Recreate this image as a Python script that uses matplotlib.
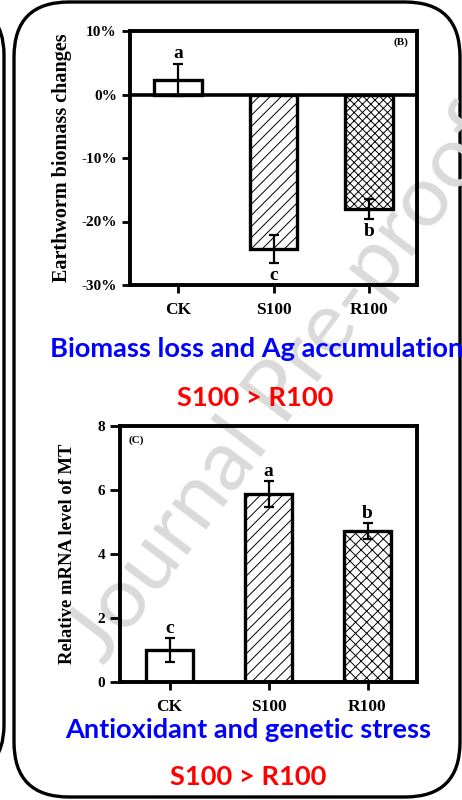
import matplotlib
matplotlib.use("Agg")
import matplotlib.pyplot as plt
from matplotlib.patches import FancyBboxPatch
import numpy as np

categories = ["CK", "S100", "R100"]
biomass_change = [2.3, -24.3, -18.0]
biomass_err = [2.5, 2.2, 1.6]
biomass_letters = ["a", "c", "b"]
biomass_ticks = [-30, -20, -10, 0, 10]
mt_level = [1.0, 5.87, 4.72]
mt_err = [0.37, 0.40, 0.24]
mt_letters = ["c", "a", "b"]
mt_ticks = [0, 2, 4, 6, 8]

plt.rcParams['font.family'] = 'Liberation Serif'
plt.rcParams['font.weight'] = 'bold'
plt.rcParams['axes.labelweight'] = 'bold'
plt.rcParams['hatch.linewidth'] = 0.7

fig = plt.figure(figsize=(4.62, 8.0), dpi=100)

# background layer in pixel units: frames, watermark, captions
bg = fig.add_axes([0, 0, 1, 1], zorder=-1)
bg.set_xlim(0, 462)
bg.set_ylim(800, 0)
bg.axis('off')
bg.add_patch(FancyBboxPatch((14, 2), 446, 795, boxstyle="round,pad=0,rounding_size=55",
                            fill=False, lw=2.4, ec='black'))
bg.add_patch(FancyBboxPatch((-400, 5), 404, 770, boxstyle="round,pad=0,rounding_size=50",
                            fill=False, lw=2.4, ec='black'))

# watermark
bg.text(285, 385, "Journal Pre-proof", rotation=53, rotation_mode='anchor',
        ha='center', va='center', fontsize=62, family='Lato', fontweight='normal',
        color='#dadada', zorder=1)

cap_font = dict(family='Lato', fontweight='bold', fontsize=19.6, va='center', zorder=5)
bg.text(50, 349, "Biomass loss and Ag accumulation", ha='left', color='#0000ff', **cap_font)
bg.text(255, 398, "S100 > R100", ha='center', color='#ff0000', **cap_font)
bg.text(248, 730, "Antioxidant and genetic stress", ha='center', color='#0000ff', **cap_font)
bg.text(248, 777, "S100 > R100", ha='center', color='#ff0000', **cap_font)


def bar_panel(ax, values, errs, letters, hatches, width):
    x = np.arange(len(categories))
    ax.set_facecolor('none')
    bars = ax.bar(x, values, width, color='white', edgecolor='black', linewidth=2.4, zorder=2)
    for b, h in zip(bars, hatches):
        b.set_hatch(h)
    ax.errorbar(x, values, yerr=errs, fmt='none', ecolor='black', elinewidth=1.6,
                capsize=3.5, capthick=1.6, zorder=3)
    for xi, v, e, t in zip(x, values, errs, letters):
        if v >= 0:
            ax.annotate(t, (xi, v + e), xytext=(0, 4), textcoords='offset points',
                        ha='center', va='baseline', fontsize=14)
        else:
            ax.annotate(t, (xi, v - e), xytext=(0, -3), textcoords='offset points',
                        ha='center', va='top', fontsize=14)
    ax.set_xlim(-0.5, 2.5)
    ax.set_xticks(x)
    ax.set_xticklabels(categories)
    for s in ax.spines.values():
        s.set_linewidth(2.8)
    ax.tick_params(direction='out', length=6, width=2, labelsize=11)
    ax.tick_params(axis='x', labelsize=12.5, pad=6)


# (B) earthworm biomass
axb = fig.add_axes([130 / 462, 1 - 285 / 800, 287 / 462, 254 / 800])
bar_panel(axb, biomass_change, biomass_err, biomass_letters, ["", "///", "xxxx"], 0.5)
axb.axhline(0, color='black', lw=2.6, zorder=4)
axb.set_ylim(-30, 10)
axb.set_yticks(biomass_ticks)
axb.set_yticklabels([f"{t}%" for t in biomass_ticks])
axb.set_ylabel("Earthworm biomass changes", fontsize=14.5)
axb.yaxis.set_label_coords(-0.202, 0.5)
axb.text(0.97, 0.955, "(B)", transform=axb.transAxes, ha='right', va='center', fontsize=8)

# (C) MT expression
axc = fig.add_axes([120 / 462, 1 - 682 / 800, 297 / 462, 256 / 800])
bar_panel(axc, mt_level, mt_err, mt_letters, ["", "///", "xxx"], 0.48)
axc.tick_params(axis='y', length=7)
axc.set_ylim(0, 8)
axc.set_yticks(mt_ticks)
axc.set_ylabel("Relative mRNA level of MT", fontsize=13.4)
axc.yaxis.set_label_coords(-0.148, 0.5)
axc.text(0.027, 0.945, "(C)", transform=axc.transAxes, ha='left', va='center', fontsize=8)

fig.savefig("out.png", dpi=100)
